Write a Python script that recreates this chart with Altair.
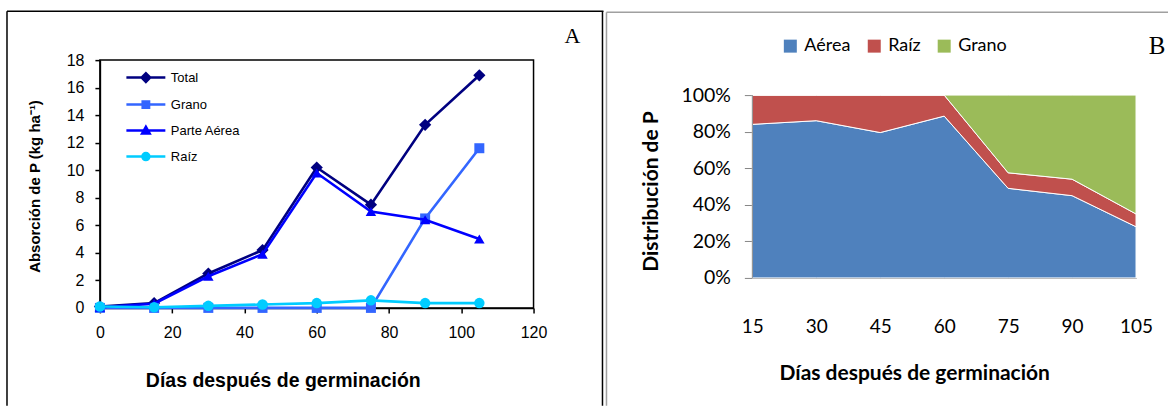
import altair as alt
import pandas as pd

# ---------------- Panel A data ----------------
dias = [0, 15, 30, 45, 60, 75, 90, 105]
total = [0.1, 0.35, 2.5, 4.2, 10.2, 7.5, 13.3, 16.9]
grano = [0.0, 0.0, 0.0, 0.0, 0.0, 0.0, 6.5, 11.6]
parte_aerea = [0.05, 0.3, 2.3, 3.9, 9.8, 7.0, 6.4, 5.0]
raiz = [0.1, 0.05, 0.15, 0.25, 0.35, 0.55, 0.35, 0.35]

series_a = ["Total", "Grano", "Parte Aérea", "Raíz"]
colors_a = ["#000080", "#3366FF", "#0000FF", "#00CCFF"]
shapes_a = ["diamond", "square", "triangle-up", "circle"]
sizes_a = [150, 100, 110, 110]
x_ticks_a = [0, 20, 40, 60, 80, 100, 120]
y_ticks_a = [0, 2, 4, 6, 8, 10, 12, 14, 16, 18]

# ---------------- Panel B data ----------------
dias_b = [15, 30, 45, 60, 75, 90, 105]
pct_aerea = [84, 86, 79.5, 88.5, 49, 45, 28]
pct_raiz = [16, 14, 20.5, 11.5, 8.5, 9, 7]
pct_grano = [0, 0, 0, 0, 42.5, 46, 65]
comp_b = ["Aérea", "Raíz", "Grano"]
colors_b = ["#4F81BD", "#C0504D", "#9BBB59"]
y_ticks_b = [0, 0.2, 0.4, 0.6, 0.8, 1.0]

# ---------------- Panel A chart ----------------
vals = {"Total": total, "Grano": grano, "Parte Aérea": parte_aerea, "Raíz": raiz}
rows = []
for s in series_a:
    for d, v in zip(dias, vals[s]):
        rows.append({"dia": d, "valor": v, "serie": s})
df_a = pd.DataFrame(rows)

W_A, H_A = 434, 248
SANS = "Liberation Sans"

# legend symbol paths (line + marker); unit = sqrt(size)/2 = 10 px
legend_paths = [
    "M-1,0L2.9,0M0.52,0L0.95,-0.43L1.38,0L0.95,0.43Z",
    "M-1,0L2.9,0M0.63,-0.32L1.27,-0.32L1.27,0.32L0.63,0.32Z",
    "M-1,0L2.9,0M0.57,0.3L0.95,-0.38L1.33,0.3Z",
    "M-1,0L2.9,0M0.6,0A0.35,0.35 0 1,0 1.3,0A0.35,0.35 0 1,0 0.6,0Z",
]

x_a = alt.X(
    "dia:Q", scale=alt.Scale(domain=[0, 120], nice=False),
    axis=alt.Axis(values=x_ticks_a, grid=False, domainColor="black", domainWidth=1.5,
                  tickColor="black", tickSize=5, tickWidth=1.5, labelFont=SANS, labelFontSize=16,
                  labelColor="black", labelPadding=12, labelAngle=0, labelFlush=False,
                  title="Días después  de germinación", titleFont=SANS, titleFontSize=19.5,
                  titleFontWeight="bold", titleColor="black", titleX=183, titleY=73,
                  titleBaseline="middle", titleAlign="center"),
)
y_a = alt.Y(
    "valor:Q", scale=alt.Scale(domain=[0, 18], nice=False),
    axis=alt.Axis(values=y_ticks_a, grid=False, domainColor="black", domainWidth=1.5,
                  tickColor="black", tickSize=5, tickWidth=1.5, labelFont=SANS, labelFontSize=16,
                  labelColor="black", labelPadding=11, labelFlush=False,
                  title="Absorción de P (kg ha⁻¹)", titleFont=SANS, titleFontSize=15,
                  titleFontWeight="bold", titleColor="black", titleX=-65, titleY=126,
                  titleBaseline="middle", titleAlign="center", titleAngle=270),
)

layers_a = []
for s, c, shp, sz in zip(series_a, colors_a, shapes_a, sizes_a):
    base = alt.Chart(df_a).transform_filter(alt.datum.serie == s)
    layers_a.append(base.mark_line(strokeWidth=2.6, color=c).encode(x=x_a, y=y_a))
    layers_a.append(base.mark_point(filled=True, size=sz, opacity=1, color=c, shape=shp)
                    .encode(x=x_a, y=y_a))

# invisible layer that only produces the legend (line + marker symbols)
leg = alt.Legend(orient="none", legendX=25, legendY=6, title=None, padding=0,
                 symbolSize=400, symbolStrokeWidth=2.5, symbolOpacity=1,
                 labelFont=SANS, labelFontSize=13, labelColor="black",
                 labelOffset=23, rowPadding=6)
legend_layer = alt.Chart(df_a).mark_point(filled=True, opacity=0, size=400, strokeWidth=2.5).encode(
    x=x_a, y=y_a,
    fill=alt.Fill("serie:N", scale=alt.Scale(domain=series_a, range=colors_a), legend=leg),
    stroke=alt.Stroke("serie:N", scale=alt.Scale(domain=series_a, range=colors_a), legend=leg),
    shape=alt.Shape("serie:N", scale=alt.Scale(domain=series_a, range=legend_paths), legend=leg),
)

one = pd.DataFrame({"k": [0]})
frame_a = [
    alt.Chart(one).mark_rule(color="black", strokeWidth=1.5).encode(
        x=alt.value(-93), x2=alt.value(-93), y=alt.value(-49), y2=alt.value(346)),
    alt.Chart(one).mark_rule(color="black", strokeWidth=1.5).encode(
        x=alt.value(-93), x2=alt.value(504), y=alt.value(-49), y2=alt.value(-49)),
    alt.Chart(one).mark_rule(color="black", strokeWidth=1.5).encode(
        x=alt.value(503), x2=alt.value(503), y=alt.value(-49), y2=alt.value(346)),
    alt.Chart(one).mark_text(font="Liberation Serif", fontSize=22, color="black",
                             align="center", baseline="middle").encode(
        x=alt.value(473), y=alt.value(-24), text=alt.value("A")),
]

chart_a = alt.layer(legend_layer, *layers_a, *frame_a).properties(
    width=W_A, height=H_A, view=alt.ViewBackground(stroke="black", strokeWidth=1.5)
)

# ---------------- Panel B chart ----------------
rows_b = []
for i, (c, arr) in enumerate(zip(comp_b, [pct_aerea, pct_raiz, pct_grano])):
    for d, v in zip(dias_b, arr):
        rows_b.append({"dia": d, "pct": v, "comp": c, "orden": i})
df_b = pd.DataFrame(rows_b)

W_B, H_B = 384, 218
PLOT_H_B = 183
ymax_b = H_B / PLOT_H_B
CAL = "Lato"
GRAY = "#868686"

area_b = alt.Chart(df_b).mark_area(stroke="white", strokeWidth=1, opacity=1).encode(
    x=alt.X("dia:Q", scale=alt.Scale(domain=[15, 105], nice=False),
            axis=alt.Axis(values=dias_b, grid=False, ticks=False, domainColor=GRAY,
                          domainWidth=1, labelFont=CAL, labelFontSize=19, labelColor="black",
                          labelPadding=40, labelAngle=0, labelFlush=False,
                          title="Días después de germinación", titleFont=CAL, titleFontSize=21,
                          titleFontWeight="bold", titleColor="black", titleX=162, titleY=96,
                          titleBaseline="middle", titleAlign="center")),
    y=alt.Y("pct:Q", stack="normalize", scale=alt.Scale(domain=[0, ymax_b], nice=False),
            axis=alt.Axis(values=y_ticks_b, format=".0%", grid=False, domain=False,
                          tickColor=GRAY, tickSize=8, labelFont=CAL, labelFontSize=19.5,
                          labelColor="black", labelPadding=14, labelFlush=False,
                          title="Distribución de P", titleFont=CAL, titleFontSize=21,
                          titleFontWeight="bold", titleColor="black", titleX=-101, titleY=131,
                          titleBaseline="middle", titleAlign="center", titleAngle=270)),
    color=alt.Color("comp:N", scale=alt.Scale(domain=comp_b, range=colors_b),
                    legend=alt.Legend(orient="none", legendX=29, legendY=-23, title=None,
                                      direction="horizontal", symbolType="square",
                                      symbolSize=169, symbolStrokeWidth=0, padding=0,
                                      labelFont=CAL, labelFontSize=18, labelColor="black",
                                      labelOffset=5, columnPadding=14, symbolOpacity=1)),
    order=alt.Order("orden:Q"),
)

frame_b = [
    alt.Chart(one).mark_rule(color=GRAY, strokeWidth=1).encode(
        x=alt.value(0), x2=alt.value(0), y=alt.value(H_B - PLOT_H_B), y2=alt.value(H_B)),
    alt.Chart(one).mark_rule(color="#A0A0A0", strokeWidth=1.5).encode(
        x=alt.value(-146), x2=alt.value(-146), y=alt.value(-48), y2=alt.value(346)),
    alt.Chart(one).mark_rule(color="#A0A0A0", strokeWidth=1.5).encode(
        x=alt.value(-146), x2=alt.value(416), y=alt.value(-48), y2=alt.value(-48)),
    alt.Chart(one).mark_text(font="Liberation Serif", fontSize=25, color="black",
                             align="center", baseline="middle").encode(
        x=alt.value(405), y=alt.value(-14), text=alt.value("B")),
]

chart_b = alt.layer(area_b, *frame_b).properties(
    width=W_B, height=H_B, view=alt.ViewBackground(stroke=None)
)

chart = alt.hconcat(chart_a, chart_b, spacing=219, bounds="flush").resolve_scale(
    color="independent", shape="independent", fill="independent", stroke="independent",
    x="independent", y="independent"
).properties(
    padding={"left": 5, "top": 9, "right": 0, "bottom": 0},
    background="white",
).configure_view(strokeWidth=1.5)

chart.save("out.html", embed_options={"renderer": "svg", "actions": False})
